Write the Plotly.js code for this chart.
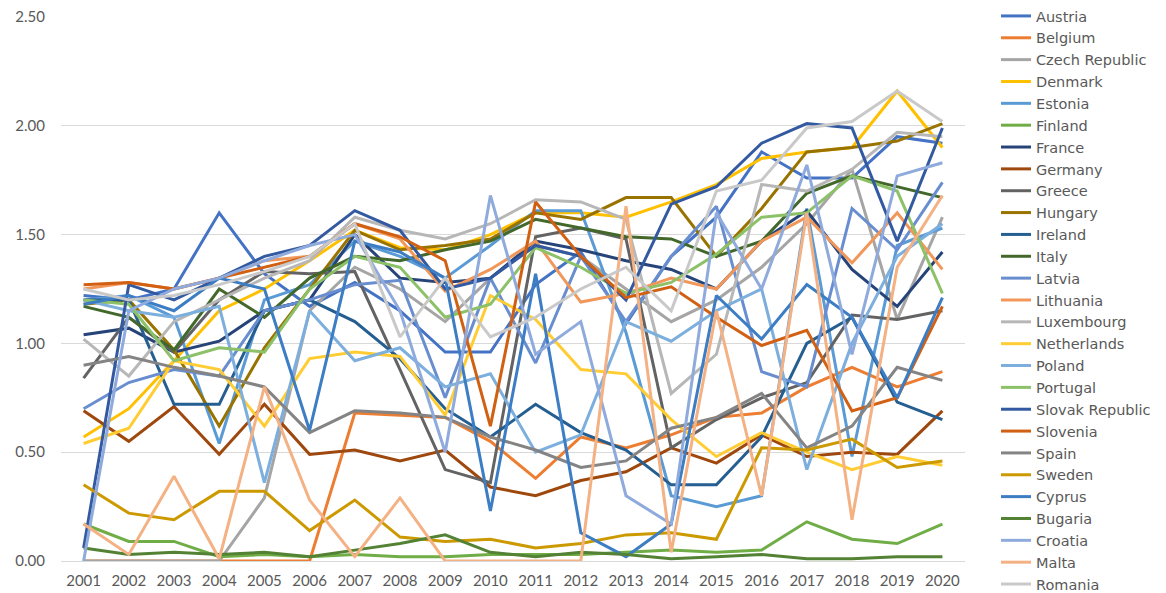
<!DOCTYPE html>
<html>
<head>
<meta charset="utf-8">
<script src="https://cdn.plot.ly/plotly-3.0.1.min.js"></script>
<style>html,body{margin:0;padding:0;background:#fff;}#chart{width:1166px;height:593px;}</style>
</head>
<body>
<div id="chart"></div>
<script>
const years = ["2001","2002","2003","2004","2005","2006","2007","2008","2009","2010","2011","2012","2013","2014","2015","2016","2017","2018","2019","2020"];

const austria     = [1.22,1.20,1.25,1.60,1.32,1.17,1.28,1.15,0.96,0.96,1.27,1.42,1.09,1.40,1.58,1.88,1.76,1.76,1.95,1.92];
const belgium     = [0.00,0.00,0.00,0.00,0.00,0.00,0.68,0.67,0.66,0.55,0.38,0.57,0.52,0.58,0.66,0.68,0.80,0.89,0.80,0.87];
const czech       = [0.00,0.00,0.00,0.00,0.29,1.15,1.35,1.25,1.10,1.30,1.45,1.40,1.25,1.10,1.20,1.35,1.55,1.80,1.11,1.58];
const denmark     = [0.57,0.70,0.92,1.15,1.25,1.38,1.52,1.44,1.43,1.50,1.60,1.60,1.58,1.65,1.73,1.85,1.88,1.90,2.16,1.90];
const estonia     = [1.20,1.22,1.12,0.54,1.20,1.27,1.47,1.40,1.30,1.45,1.61,1.61,1.05,0.30,0.25,0.30,1.62,0.48,1.45,1.53];
const finland     = [0.17,0.09,0.09,0.02,0.03,0.02,0.03,0.02,0.02,0.03,0.03,0.03,0.04,0.05,0.04,0.05,0.18,0.10,0.08,0.17];
const france      = [1.04,1.07,0.96,1.01,1.15,1.20,1.50,1.30,1.28,1.30,1.47,1.43,1.38,1.34,1.25,1.47,1.61,1.34,1.17,1.42];
const germany     = [0.69,0.55,0.71,0.49,0.72,0.49,0.51,0.46,0.51,0.34,0.30,0.37,0.41,0.52,0.45,0.58,0.48,0.50,0.49,0.69];
const greece      = [0.84,1.12,0.96,1.20,1.33,1.32,1.33,0.88,0.42,0.36,1.49,1.53,1.48,0.52,0.65,0.75,0.82,1.13,1.11,1.15];
const hungary     = [1.18,1.20,0.97,0.62,0.98,1.25,1.52,1.43,1.45,1.48,1.60,1.57,1.67,1.67,1.40,1.62,1.88,1.90,1.93,2.01];
const ireland     = [1.20,1.20,0.72,0.72,1.15,1.20,1.10,0.93,0.70,0.57,0.72,0.59,0.51,0.35,0.35,0.57,1.00,1.12,0.73,0.65];
const italy       = [1.17,1.12,0.97,1.25,1.12,1.30,1.40,1.38,1.43,1.47,1.57,1.53,1.49,1.48,1.40,1.47,1.69,1.77,1.72,1.67];
const latvia      = [0.70,0.82,0.88,0.85,1.15,1.20,1.27,1.29,0.75,1.30,0.91,1.40,1.10,1.40,1.63,0.87,0.80,1.62,1.43,1.74];
const lithuania   = [1.25,1.28,1.25,1.30,1.38,1.40,1.55,1.48,1.24,1.34,1.47,1.19,1.23,1.30,1.25,1.47,1.58,1.37,1.60,1.34];
const luxembourg  = [1.02,0.85,1.10,1.20,1.30,1.38,1.58,1.52,1.48,1.55,1.66,1.65,1.57,0.77,0.95,1.73,1.70,1.80,1.97,1.95];
const netherlands = [0.54,0.61,0.92,0.88,0.62,0.93,0.96,0.94,0.67,1.22,1.11,0.88,0.86,0.65,0.48,0.59,0.50,0.42,0.48,0.44];
const poland      = [1.20,1.15,1.12,1.17,0.36,1.15,0.92,0.98,0.80,0.86,0.50,0.58,1.10,1.01,1.15,1.25,0.42,1.00,1.40,1.55];
const portugal    = [1.20,1.18,0.92,0.98,0.96,1.25,1.40,1.35,1.12,1.18,1.44,1.35,1.23,1.28,1.41,1.58,1.60,1.77,1.70,1.23];
const slovakia    = [0.06,1.27,1.20,1.30,1.40,1.45,1.61,1.52,1.25,1.30,1.45,1.40,1.20,1.64,1.72,1.92,2.01,1.99,1.47,1.99];
const slovenia    = [1.27,1.28,1.25,1.30,1.35,1.40,1.55,1.49,1.38,0.62,1.65,1.40,1.21,1.26,1.12,0.99,1.06,0.69,0.75,1.17];
const spain       = [0.90,0.94,0.89,0.85,0.80,0.59,0.69,0.68,0.66,0.57,0.51,0.43,0.46,0.61,0.66,0.77,0.52,0.62,0.89,0.83];
const sweden      = [0.35,0.22,0.19,0.32,0.32,0.14,0.28,0.11,0.09,0.10,0.06,0.08,0.12,0.13,0.10,0.52,0.51,0.56,0.43,0.46];
const cyprus      = [1.18,1.22,1.15,1.30,1.25,0.60,1.47,1.42,1.30,0.23,1.32,0.13,0.02,0.17,1.22,1.02,1.27,1.12,0.75,1.21];
const bugaria     = [0.06,0.03,0.04,0.03,0.04,0.02,0.05,0.08,0.12,0.04,0.02,0.04,0.03,0.01,0.02,0.03,0.01,0.01,0.02,0.02];
const croatia     = [0.00,1.15,1.25,1.30,1.38,1.45,1.50,1.15,0.50,1.68,0.95,1.10,0.30,0.17,1.60,1.25,1.82,0.95,1.77,1.83];
const malta       = [0.17,0.03,0.39,0.01,0.80,0.28,0.02,0.29,0.00,0.00,0.00,0.00,1.63,0.04,1.15,0.30,1.60,0.19,1.35,1.68];
const romania     = [1.25,1.20,1.22,1.27,1.33,1.40,1.55,1.03,1.30,1.03,1.12,1.25,1.35,1.15,1.70,1.75,1.99,2.02,2.16,2.02];

const names = ["Austria","Belgium","Czech Republic","Denmark","Estonia","Finland","France","Germany","Greece","Hungary","Ireland","Italy","Latvia","Lithuania","Luxembourg","Netherlands","Poland","Portugal","Slovak Republic","Slovenia","Spain","Sweden","Cyprus","Bugaria","Croatia","Malta","Romania"];
const series = [austria,belgium,czech,denmark,estonia,finland,france,germany,greece,hungary,ireland,italy,latvia,lithuania,luxembourg,netherlands,poland,portugal,slovakia,slovenia,spain,sweden,cyprus,bugaria,croatia,malta,romania];
const colors = ["#4472C4","#ED7D31","#A5A5A5","#FFC000","#5B9BD5","#70AD47","#264478","#9E480E","#636363","#997300","#255E91","#43682B","#698ED0","#F1975A","#B7B7B7","#FFCD33","#7CAFDD","#8CC168","#335AA1","#D26012","#848484","#CC9A00","#3C7DC4","#548235","#8FAADC","#F4B183","#C9C9C9"];

const traces = names.map((n,i)=>({
  type:"scatter", mode:"lines", name:n, x:years, y:series[i],
  line:{color:colors[i], width:3}
}));

const layout = {
  width:1166, height:593,
  margin:{l:61, r:201, t:17, b:32},
  paper_bgcolor:"#ffffff", plot_bgcolor:"#ffffff",
  font:{family:"Lato, 'Open Sans', sans-serif", size:15, color:"#595959"},
  showlegend:true,
  legend:{
    xref:"container", yref:"container", x:996/1166, y:1, xanchor:"left", yanchor:"top",
    maxheight:700,
    font:{family:"'DejaVu Sans', sans-serif", size:14.5, color:"#595959"},
    bgcolor:"rgba(0,0,0,0)", borderwidth:0, tracegroupgap:0
  },
  xaxis:{type:"category", range:[-0.5,19.5], showgrid:false, zeroline:false,
    showline:true, linecolor:"#D9D9D9", linewidth:1, ticks:"", ticklabelstandoff:6,
    tickfont:{family:"Lato, 'Open Sans', sans-serif", size:15, color:"#595959"}},
  yaxis:{range:[0,2.5], dtick:0.5, tickformat:".2f", showgrid:true, gridcolor:"#D9D9D9", gridwidth:1,
    zeroline:false, showline:false, ticks:"", ticklabelstandoff:15,
    tickfont:{family:"Lato, 'Open Sans', sans-serif", size:15, color:"#595959"}}
};

Plotly.newPlot("chart", traces, layout, {displayModeBar:false, staticPlot:true});
</script>
</body>
</html>
